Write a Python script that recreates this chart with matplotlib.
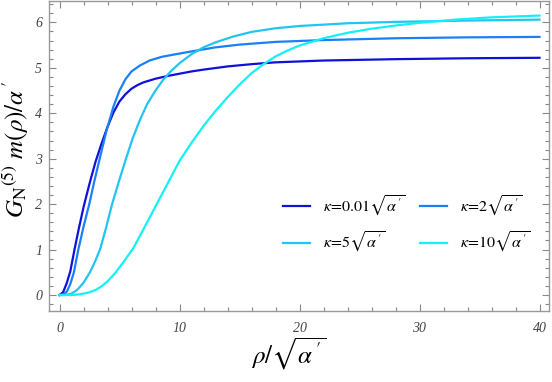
import matplotlib
matplotlib.use("Agg")
import matplotlib.pyplot as plt
from matplotlib.ticker import MultipleLocator

plt.rcParams["mathtext.fontset"] = "stix"
plt.rcParams["font.family"] = ["Liberation Serif", "DejaVu Serif"]

# values
rho_a = [0, 0.3, 0.6, 0.9, 1.25, 1.6, 2.0, 2.5, 3.0, 3.5, 4.0, 4.5, 5.0, 5.5,
         6.0, 6.5, 7.0, 8.0, 9, 10, 11, 12, 14, 16, 18, 22, 28, 34, 40]
m_a = [0, 0.06, 0.26, 0.52, 1.0, 1.45, 1.93, 2.45, 2.93, 3.33, 3.7, 4.02,
       4.26, 4.42, 4.54, 4.62, 4.68, 4.76, 4.82, 4.87, 4.92, 4.96, 5.03, 5.08,
       5.12, 5.16, 5.19, 5.21, 5.22]

rho_b = [0, 0.3, 0.6, 0.9, 1.2, 1.57, 2.0, 2.48, 2.9, 3.35, 3.9, 4.5, 5.0,
         5.5, 6.0, 6.7, 7.5, 8.5, 9.5, 11, 13, 15, 18, 22, 28, 34, 40]
m_b = [0, 0.01, 0.07, 0.24, 0.5, 1.0, 1.5, 2.0, 2.5, 3.0, 3.6, 4.15, 4.5,
       4.75, 4.92, 5.05, 5.16, 5.24, 5.29, 5.36, 5.45, 5.51, 5.57, 5.61, 5.65,
       5.67, 5.68]

rho_c = [0, 0.5, 1.0, 1.5, 2.0, 2.54, 3.0, 3.4, 3.9, 4.35, 4.95, 5.54, 6.1,
         6.7, 7.3, 8.0, 8.65, 9.3, 10, 11, 12, 13, 14.5, 16, 18, 20, 24, 28,
         34, 40]
m_c = [0, 0, 0.03, 0.12, 0.27, 0.5, 0.76, 1.02, 1.5, 1.97, 2.5, 3.0, 3.45,
       3.85, 4.2, 4.5, 4.74, 4.93, 5.1, 5.3, 5.45, 5.56, 5.69, 5.79, 5.87,
       5.92, 5.98, 6.01, 6.04, 6.06]

rho_d = [0, 1, 1.5, 2, 2.5, 3, 3.5, 4, 4.63, 5.4, 6.15, 7, 8, 9, 10, 11, 12,
         13, 14, 15, 16, 17, 18, 19, 20, 22, 24, 26, 28, 30, 33, 36, 40]
m_d = [0, 0, 0.01, 0.03, 0.06, 0.11, 0.19, 0.3, 0.48, 0.75, 1.03, 1.45, 1.95,
       2.45, 2.95, 3.35, 3.72, 4.05, 4.35, 4.63, 4.88, 5.08, 5.25, 5.38, 5.49,
       5.65, 5.77, 5.86, 5.93, 5.99, 6.06, 6.11, 6.15]

labels = [r"$\kappa\!=\!0.01\sqrt{\alpha\,'}$", r"$\kappa\!=\!2\sqrt{\alpha\,'}$",
          r"$\kappa\!=\!5\sqrt{\alpha\,'}$", r"$\kappa\!=\!10\sqrt{\alpha\,'}$"]
colors = ["#1010dd", "#1a80f5", "#22c4f2", "#14f0f6"]


def Main():
    fig = plt.figure(figsize=(5.52, 3.82), dpi=100)
    ax = fig.add_axes([49 / 552, 71 / 382, 500 / 552, 310 / 382])

    series = [(rho_a, m_a), (rho_b, m_b), (rho_c, m_c), (rho_d, m_d)]
    lines = []
    for (xs, ys), lab, col in zip(series, labels, colors):
        ln, = ax.plot(xs, ys, color=col, lw=1.6, label=lab)
        lines.append(ln)

    ax.set_xlim(-0.875, 40.79)
    ax.set_ylim(-0.352, 6.47)

    ax.xaxis.set_major_locator(MultipleLocator(10))
    ax.xaxis.set_minor_locator(MultipleLocator(2))
    ax.yaxis.set_major_locator(MultipleLocator(1))
    ax.yaxis.set_minor_locator(MultipleLocator(0.2))
    ax.tick_params(which="both", direction="in", top=True, right=True,
                   color="#888888", width=0.8, labelcolor="#444444")
    ax.tick_params(which="major", length=5, labelsize=10)
    ax.tick_params(axis="x", which="major", pad=8)
    ax.tick_params(axis="y", which="major", pad=5)
    ax.tick_params(which="minor", length=2.8)
    for lbl in ax.get_xticklabels() + ax.get_yticklabels():
        lbl.set_fontstyle("italic")
    for sp in ax.spines.values():
        sp.set_color("#999999")
        sp.set_linewidth(1.0)

    ax.set_xlabel(r"$\rho/\sqrt{\alpha\,'}$", fontsize=18)
    ax.xaxis.set_label_coords(0.48, -0.08)
    ax.set_ylabel(r"$G_{\mathrm{N}}{}^{(5)}\ m(\rho)/\alpha\,'$", fontsize=18)
    ax.yaxis.set_label_coords(-0.036, 0.52)

    # row-wise order: 0.01, 2 / 5, 10
    order = [0, 2, 1, 3]
    ax.legend([lines[i] for i in order], [labels[i] for i in order],
              loc="center left", bbox_to_anchor=(0.455, 0.28), ncol=2,
              frameon=False, fontsize=11.5, handlelength=1.7, handletextpad=0.8,
              columnspacing=0.9, labelspacing=0.75, borderaxespad=0)

    fig.savefig("out.png", dpi=100)


if __name__ == "__main__":
    Main()
